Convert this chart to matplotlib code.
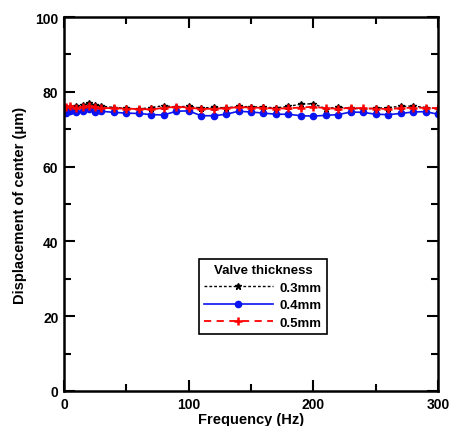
import matplotlib
matplotlib.use("Agg")
import matplotlib.pyplot as plt
from matplotlib.ticker import MultipleLocator

plt.rcParams["font.family"] = ["Liberation Sans", "DejaVu Sans"]
plt.rcParams["font.weight"] = "bold"

freq = [2, 5, 10, 15, 20, 25, 30, 40, 50, 60, 70, 80, 90, 100, 110, 120, 130,
        140, 150, 160, 170, 180, 190, 200, 210, 220, 230, 240, 250, 260, 270,
        280, 290, 300]

disp_03 = [75.8, 76.0, 76.3, 76.4, 77.0, 76.5, 76.2, 75.8, 75.6, 75.4, 75.8,
           76.3, 75.9, 76.2, 75.6, 75.9, 75.7, 76.1, 76.0, 75.9, 75.7, 76.1,
           76.7, 76.8, 75.5, 75.9, 75.6, 75.4, 75.6, 75.8, 76.1, 76.2, 75.8,
           75.5]
disp_04 = [74.3, 74.8, 74.5, 75.0, 75.3, 74.6, 74.8, 74.5, 74.3, 74.2, 73.9,
           73.8, 74.8, 74.9, 73.6, 73.6, 74.0, 74.8, 74.6, 74.3, 74.0, 74.0,
           73.6, 73.5, 73.7, 73.9, 74.6, 74.5, 74.0, 73.9, 74.2, 74.6, 74.7,
           74.0]
disp_05 = [76.0, 76.2, 75.8, 76.0, 76.3, 75.9, 75.7, 75.6, 75.5, 75.4, 75.3,
           75.7, 76.0, 75.8, 75.4, 75.5, 75.6, 75.9, 75.8, 75.7, 75.5, 75.6,
           75.8, 76.0, 75.6, 75.5, 75.7, 75.6, 75.5, 75.4, 75.6, 75.8, 75.7,
           75.6]

fig = plt.figure(figsize=(4.5, 4.27), dpi=100)
ax = fig.add_axes([64 / 450, 35 / 427, 374 / 450, 374 / 427])

ax.plot(freq, disp_03, color="black", linestyle=(0, (2, 1.5)), linewidth=1.0,
        marker="*", markersize=5, label="0.3mm")
ax.plot(freq, disp_04, color="#0a14f0", linestyle="-", linewidth=1.2,
        marker="o", markersize=4.5, label="0.4mm")
ax.plot(freq, disp_05, color="#ff0000", linestyle=(0, (4, 3)), linewidth=1.3,
        marker="+", markersize=6, markeredgewidth=1.8, label="0.5mm")

ax.set_xlim(0, 300)
ax.set_ylim(0, 100)
ax.xaxis.set_major_locator(MultipleLocator(100))
ax.xaxis.set_minor_locator(MultipleLocator(50))
ax.yaxis.set_major_locator(MultipleLocator(20))
ax.yaxis.set_minor_locator(MultipleLocator(10))
ax.tick_params(which="both", direction="in", top=True, right=True,
               labelsize=10, width=1.5, pad=4)
ax.tick_params(which="major", length=8)
ax.tick_params(which="minor", length=5)
for s in ax.spines.values():
    s.set_linewidth(1.8)

ax.set_xlabel("Frequency (Hz)", fontsize=10.5, fontweight="bold", labelpad=1)
ax.set_ylabel("Displacement of center (μm)", fontsize=10.5, fontweight="bold",
              labelpad=6)

leg = ax.legend(title="Valve thickness", loc="lower left",
                bbox_to_anchor=(0.343, 0.134), fontsize=9.5,
                title_fontproperties={"weight": "bold", "size": 9.5},
                handlelength=5.2, fancybox=False, edgecolor="black",
                framealpha=1, borderpad=0.4, labelspacing=0.4,
                handletextpad=0.5)
leg.get_frame().set_linewidth(1.2)

fig.savefig("out.png", dpi=100)
